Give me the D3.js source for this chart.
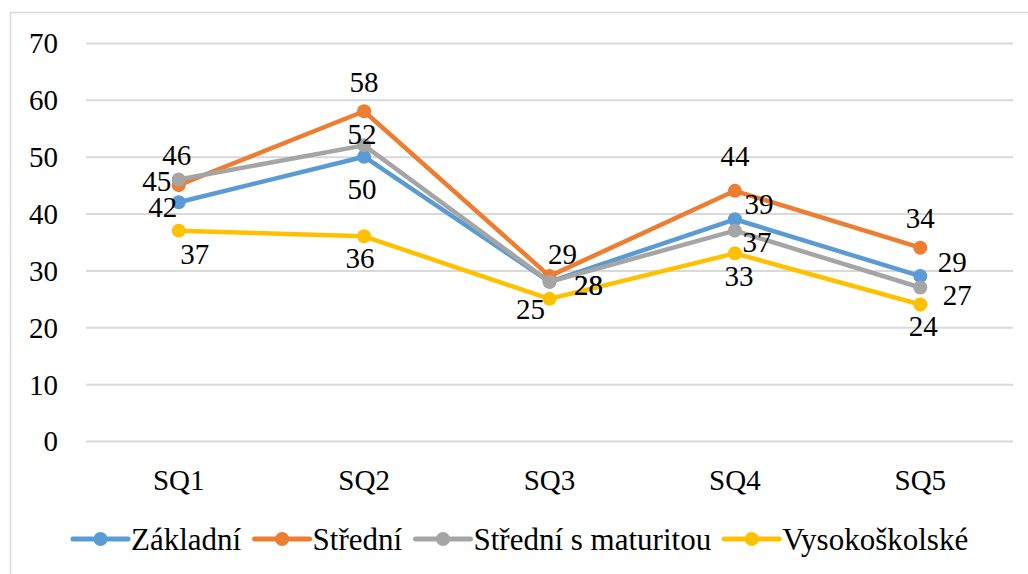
<!DOCTYPE html>
<html>
<head>
<meta charset="utf-8">
<script src="https://cdn.jsdelivr.net/npm/d3@7"></script>
<style>
  body { margin: 0; background: #fff; }
</style>
</head>
<body>
<div id="chart-area"></div>
<script>
// categories and series
var categories = ["SQ1", "SQ2", "SQ3", "SQ4", "SQ5"];
var seriesNames = ["Základní", "Střední", "Střední s maturitou", "Vysokoškolské"];
var zakladni = [42, 50, 28, 39, 29];
var stredni = [45, 58, 29, 44, 34];
var stredniMat = [46, 52, 28, 37, 27];
var vysokoskolske = [37, 36, 25, 33, 24];
var yTicks = [0, 10, 20, 30, 40, 50, 60, 70];

var colors = ["#5B9BD5", "#ED7D31", "#A5A5A5", "#FFC000"];
var fontName = "Liberation Serif";

// label offsets (centre of label relative to point), per series per category
var labelOffsets = [
	[[-16, 5], [-2, 32], [39, 3], [24, -15], [32, -14]],
	[[-22, -4], [0, -29], [13, -22], [0, -35], [0, -30]],
	[[-2, -24], [-2, -11], [39, 3], [22, 12], [37, 8]],
	[[16, 24], [-4, 22], [-19, 10], [4, 23], [3, 22]]
];

var seriesList = [zakladni, stredni, stredniMat, vysokoskolske].map(function (vals, i) {
	return { name: seriesNames[i], color: colors[i], values: vals, offsets: labelOffsets[i] };
});

var svgWidth = 1028;
var svgHeight = 574;
var margin = { top: 43, left: 86, right: 15, bottom: 133 };
var fontSize = 29;
var legendSize = 31;

var chartSvg = d3.select("#chart-area").append("svg")
	.attr("width", svgWidth)
	.attr("height", svgHeight)
	.attr("font-family", fontName);

// chart frame (runs past right and bottom edges)
chartSvg.append("rect")
	.attr("x", 10.5)
	.attr("y", 12.5)
	.attr("width", 1030)
	.attr("height", 600)
	.attr("fill", "none")
	.attr("stroke", "#D9D9D9")
	.attr("stroke-width", 1.5);

var xScale = d3.scaleBand()
	.domain(categories)
	.range([margin.left, svgWidth - margin.right]);

var yScale = d3.scaleLinear()
	.domain([0, 70])
	.range([svgHeight - margin.bottom, margin.top]);

// gridlines + y labels
var yAxis = d3.axisLeft(yScale)
	.tickValues(yTicks)
	.tickSize(-(svgWidth - margin.left - margin.right));

var yAxisGroup = chartSvg.append("g")
	.attr("transform", "translate(" + margin.left + ",0)")
	.call(yAxis)
	.attr("font-family", fontName)
	.attr("font-size", fontSize);

yAxisGroup.select(".domain").remove();
yAxisGroup.selectAll(".tick line")
	.attr("stroke", "#D9D9D9")
	.attr("stroke-width", 2);
yAxisGroup.selectAll(".tick text")
	.attr("font-family", fontName)
	.attr("font-size", fontSize)
	.attr("fill", "#000")
	.attr("x", -28)
	.attr("dy", "0.34em");

// x axis labels
var xAxis = d3.axisBottom(xScale).tickSize(0).tickPadding(0);
var xAxisGroup = chartSvg.append("g")
	.attr("transform", "translate(0," + (svgHeight - margin.bottom) + ")")
	.call(xAxis)
	.attr("font-family", fontName)
	.attr("font-size", fontSize);
xAxisGroup.select(".domain").remove();
xAxisGroup.selectAll(".tick text")
	.attr("font-family", fontName)
	.attr("font-size", fontSize)
	.attr("fill", "#000")
	.attr("y", 49)
	.attr("dy", 0);

var lineGen = d3.line()
	.x(function (d, i) { return xScale(categories[i]) + xScale.bandwidth() / 2; })
	.y(function (d) { return yScale(d); });

var plot = chartSvg.append("g");

seriesList.forEach(function (s) {
	var g = plot.append("g");
	g.append("path")
		.attr("d", lineGen(s.values))
		.attr("fill", "none")
		.attr("stroke", s.color)
		.attr("stroke-width", 4.5)
		.attr("stroke-linejoin", "round")
		.attr("stroke-linecap", "round");
	g.selectAll("circle")
		.data(s.values)
		.enter()
		.append("circle")
		.attr("cx", function (d, i) { return xScale(categories[i]) + xScale.bandwidth() / 2; })
		.attr("cy", function (d) { return yScale(d); })
		.attr("r", 7)
		.attr("fill", s.color);
});

// data labels
seriesList.forEach(function (s) {
	chartSvg.append("g").selectAll("text")
		.data(s.values)
		.enter()
		.append("text")
		.attr("font-family", fontName)
		.attr("font-size", fontSize)
		.attr("x", function (d, i) { return xScale(categories[i]) + xScale.bandwidth() / 2 + s.offsets[i][0]; })
		.attr("y", function (d, i) { return yScale(d) + s.offsets[i][1]; })
		.attr("dy", "0.34em")
		.attr("text-anchor", "middle")
		.text(function (d) { return d; });
});

// legend
var legendWidths = { };
var legend = chartSvg.append("g")
	.attr("transform", "translate(73, 539)");

var lx = 0;
seriesList.forEach(function (s) {
	var item = legend.append("g").attr("transform", "translate(" + lx + ",0)");
	item.append("line")
		.attr("x1", 0).attr("x2", 55)
		.attr("y1", 0).attr("y2", 0)
		.attr("stroke", s.color)
		.attr("stroke-width", 5)
		.attr("stroke-linecap", "round");
	item.append("circle")
		.attr("cx", 27.5).attr("cy", 0)
		.attr("r", 7)
		.attr("fill", s.color);
	var t = item.append("text")
		.attr("font-family", fontName)
		.attr("font-size", legendSize)
		.attr("x", 58)
		.attr("y", 0)
		.attr("dy", "0.34em")
		.text(s.name);
	lx += 58 + t.node().getBBox().width + 13;
});
</script>
</body>
</html>
